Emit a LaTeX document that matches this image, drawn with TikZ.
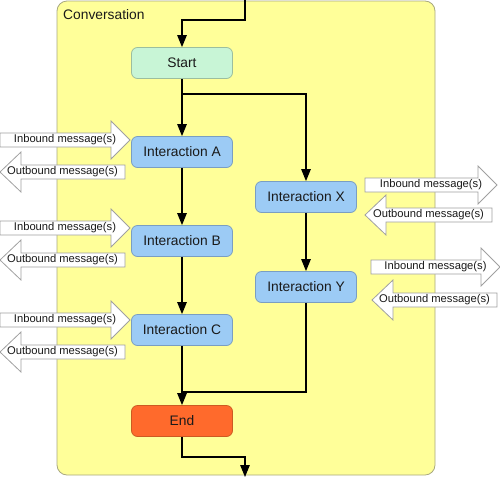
\documentclass[tikz,border=0pt]{standalone}
\usepackage{fontspec}
\setmainfont{Liberation Sans}
\usetikzlibrary{arrows.meta}
\definecolor{contfill}{HTML}{FFFF99}
\definecolor{contline}{HTML}{A8A880}
\definecolor{startfill}{HTML}{C8F5D6}
\definecolor{startline}{HTML}{9CBE9E}
\definecolor{ifill}{HTML}{9CCBF5}
\definecolor{iline}{HTML}{7A9EC2}
\definecolor{endfill}{HTML}{FF6A2C}
\definecolor{endline}{HTML}{CC5A22}
\definecolor{barrow}{HTML}{A0A0A0}
\definecolor{txt}{HTML}{1A1A1A}
\tikzset{
  box/.style={rounded corners=6pt, minimum width=101pt, minimum height=31pt, inner sep=0pt, line width=0.8pt, text=txt, font=\fontsize{13.8}{16}\selectfont},
  startbox/.style={box, fill=startfill, draw=startline},
  ibox/.style={box, fill=ifill, draw=iline},
  endbox/.style={box, fill=endfill, draw=endline},
  conn/.style={line width=1.2pt, -{Triangle[length=12pt,width=9.5pt]}},
  plain/.style={line width=1.2pt},
  blockarrow/.style={fill=white, draw=barrow, line width=0.8pt},
  msg/.style={font=\fontsize{11.2}{13}\selectfont, text=txt, inner sep=0pt}
}
% right-pointing block arrow: tail x, tip x, centre y, name, text
\newcommand{\rblock}[5]{%
  \draw[blockarrow] (#1,#3-7) -- (#2-19,#3-7) -- (#2-19,#3-19) -- (#2,#3) -- (#2-19,#3+19) -- (#2-19,#3+7) -- (#1,#3+7) -- cycle;
  \node[msg] (#4) at ({(#1+#2)/2},#3) {#5};}
% left-pointing block arrow: tip x, tail x, centre y, name, text
\newcommand{\lblock}[5]{%
  \draw[blockarrow] (#2,#3-7) -- (#1+21,#3-7) -- (#1+21,#3-20) -- (#1,#3) -- (#1+21,#3+20) -- (#1+21,#3+7) -- (#2,#3+7) -- cycle;
  \node[msg] (#4) at ({(#1+#2)/2},#3) {#5};}
\begin{document}
\begin{tikzpicture}[x=1pt,y=-1pt]
\useasboundingbox (0,0) rectangle (500,477);
% container
\draw[fill=contfill, draw=contline, line width=0.8pt, rounded corners=10pt] (57,1) rectangle (435,475);
\node[anchor=north west, inner sep=0pt, text=txt, font=\fontsize{13.8}{16}\selectfont] (title) at (63,9) {Conversation};
% nodes
\node[startbox] (start) at (182,63) {Start};
\node[ibox] (A) at (182,152) {Interaction A};
\node[ibox] (B) at (182,241) {Interaction B};
\node[ibox] (C) at (182,330) {Interaction C};
\node[ibox] (X) at (306,197) {Interaction X};
\node[ibox] (Y) at (306,287) {Interaction Y};
\node[endbox] (end) at (182,421) {End};
% coordinates
\coordinate (in0) at (245,0);
\coordinate (in1) at (245,20);
\coordinate (split) at (182,94);
\coordinate (join) at (182,392);
\coordinate (out1) at (245,457);
\coordinate (out0) at (245,477);
% connectors
\draw[conn] (in0) -- (in1) -| (start);
\draw[conn] (start) -- (A);
\draw[conn] (split) -| (X);
\draw[conn] (A) -- (B);
\draw[conn] (B) -- (C);
\draw[conn] (C) -- (end);
\draw[conn] (X) -- (Y);
\draw[plain] (Y.south) |- (join);
\draw[conn] (end.south) |- (out1) -- (out0);
% block arrows left
\rblock{0}{130}{140}{inA}{Inbound message(s)}
\lblock{0}{125}{172}{outA}{Outbound message(s)}
\rblock{0}{130}{228}{inB}{Inbound message(s)}
\lblock{0}{125}{260}{outB}{Outbound message(s)}
\rblock{0}{130}{320}{inC}{Inbound message(s)}
\lblock{0}{125}{352}{outC}{Outbound message(s)}
% block arrows right
\rblock{365}{497}{185}{inX}{Inbound message(s)}
\lblock{365}{492}{215}{outX}{Outbound message(s)}
\rblock{371}{500}{267}{inY}{Inbound message(s)}
\lblock{372}{497}{300}{outY}{Outbound message(s)}
\end{tikzpicture}
\end{document}
